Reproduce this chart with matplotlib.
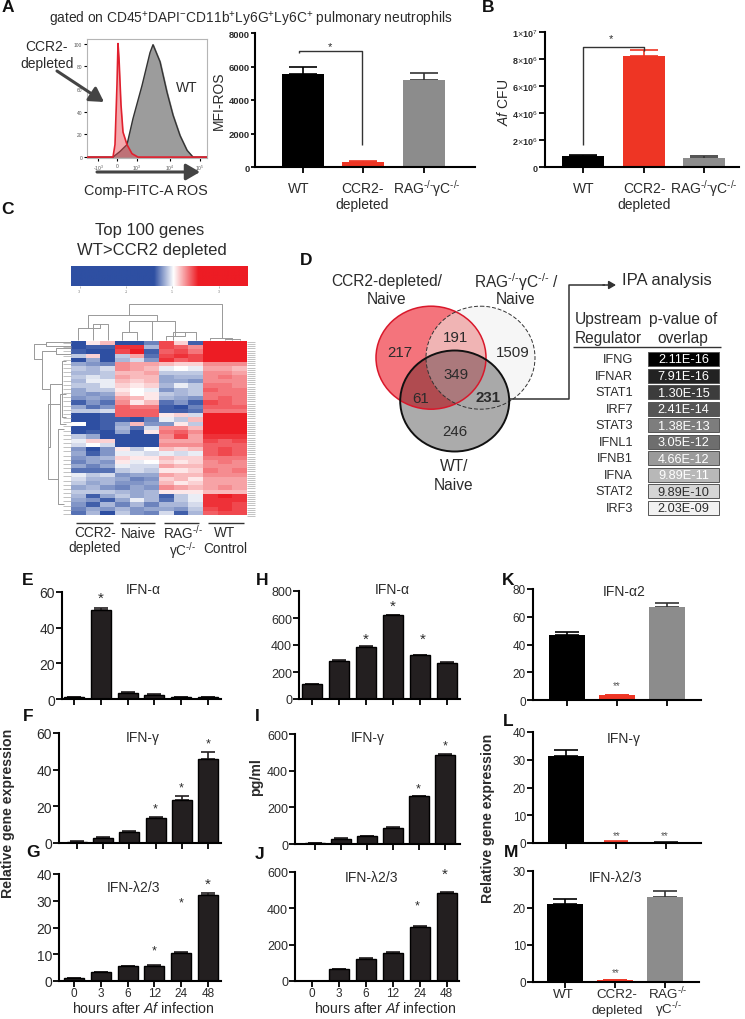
import numpy as np
import matplotlib
matplotlib.use("Agg")
import matplotlib.pyplot as plt
from matplotlib.colors import LinearSegmentedColormap
from matplotlib.patches import Ellipse, Rectangle

plt.rcParams['font.family'] = ['Liberation Sans', 'DejaVu Sans']
plt.rcParams['mathtext.fontset'] = 'custom'
plt.rcParams['mathtext.rm'] = 'Liberation Sans'
plt.rcParams['mathtext.it'] = 'Liberation Sans:italic'
plt.rcParams['mathtext.bf'] = 'Liberation Sans:bold'

W, H = 745, 1020
BLACK = '#000000'
RED = '#EE3524'
GRAY = '#8C8C8C'
DARK = '#231F20'
TXT = '#2b2b2b'
KO = r'$^{\text{-/-}}$'

# panel A / B values
ros_vals = [5550, 300, 5200]
ros_err = [450, 60, 420]
cfu_vals = [8.0e5, 8.2e6, 7.0e5]
cfu_err = [1.0e5, 4.5e5, 1.0e5]

# histogram, channel position vs % of max
wt_x = [0, 26, 33, 40, 46, 55, 63, 66, 73, 80, 86, 93, 100, 106, 120]
wt_y = [0, 0, 5, 11, 34, 63, 92, 99, 84, 57, 37, 19, 6, 0, 0]
red_x = [0, 26, 28, 30, 31, 32, 34, 36, 40, 45, 51, 120]
red_y = [0, 0, 11, 64, 100, 87, 46, 22, 11, 3, 0, 0]

# panel C, rows top to bottom: CCR2 x3, naive x3, RAG x3, WT x3
heat_values = np.array([
    [-1, .1, .3, -1, -1, -.7, .8, .2, -.9, 1, 1, 1],
    [-1, -.9, -.9, .9, .9, -.4, .8, .7, .5, 1, 1, 1],
    [-.9, -1, -1, .8, 1, -.9, .7, .8, .6, 1, 1, 1],
    [-.3, .2, -1, -.3, .4, -.8, .8, .9, .8, 1, 1, 1],
    [-1, -.5, -1, -.4, -.2, -.6, .9, .7, .8, 1, 1, 1],
    [-.5, -.6, -.7, .5, .4, .4, .3, .2, .2, .5, .5, .5],
    [-.3, -.4, -.2, .5, .4, .3, -.1, 0, -.1, .4, .4, .3],
    [-.4, -.4, -.3, .3, .3, .4, -.3, -.3, -.3, .5, .5, .4],
    [-.3, -.15, -.3, .4, .3, .3, -.5, -.4, -.4, .5, .6, .5],
    [-.4, -.1, -.1, .3, .2, .3, -.5, -.5, -.6, .5, .5, .5],
    [-.3, -.3, -.1, .2, .1, .2, -.4, -.1, -.3, .6, .6, .5],
    [-.5, -.3, -.3, .1, 0, -.1, -.6, -.4, -.3, .7, .6, .6],
    [-.5, -.6, -.5, .2, 0, .1, -.3, -.4, -.3, .6, .6, .6],
    [-.6, -.5, -.6, .4, .3, .1, -.4, -.5, -.6, .6, .7, .6],
    [-.9, -.6, -.8, .5, .1, .3, -.8, -.6, -.9, .8, .7, .6],
    [-.5, -.8, -.6, .7, .6, .6, -.9, -1, -.7, .7, .7, .7],
    [-.3, -.3, -.2, .7, .7, .7, -.9, -.9, -.8, .6, .6, .6],
    [-1, -1, -.9, .7, .7, .7, .1, .2, -.2, 1, 1, 1],
    [-1, -1, -.9, -.9, -1, -.7, -.1, -.3, .3, 1, 1, 1],
    [0, -1, -.9, -.5, .3, -.6, -.6, .1, -.3, 1, 1, 1],
    [-1, -1, -.9, -.4, -.8, -.2, .5, .5, .3, 1, 1, 1],
    [-1, -.9, -1, -.5, -1, .1, .6, .7, .5, 1, 1, 1],
    [-.3, -.5, -1, -1, -1, -1, .5, .8, .4, .9, .9, .9],
    [-.1, .2, .2, -1, -1, -1, .4, .4, .4, .8, .7, .8],
    [-.2, 0, -.2, -1, -1, -1, .5, .5, .5, .7, .7, .7],
    [-.6, -1, -.6, .1, -.3, 0, .3, .2, .3, .7, .8, .7],
    [-.5, -.9, -.6, -.1, -.1, -.2, -.1, -.2, -.1, .7, .8, .7],
    [-.6, -.5, -.4, .2, .1, .1, .3, .2, .2, .6, .6, .6],
    [-.7, -.5, -.6, .1, -.1, 0, .2, .1, .2, .5, .6, .5],
    [-.5, -.7, -.5, -.1, -.2, -.2, .4, .3, .3, .5, .5, .5],
    [-.8, -.8, -.8, -.3, -.2, -.3, .1, .1, .2, .6, .5, .6],
    [-.1, -.3, -.2, -.6, -.5, -.5, .4, .3, .3, .5, .5, .5],
    [-.2, -.4, -.4, -.5, -.7, -.6, .2, .3, .1, .4, .4, .4],
    [-.3, -.5, -.4, -.6, -.6, -.5, .3, .1, .2, .4, .4, .4],
    [-.5, -.4, -.6, -.7, -.5, -.6, .5, .4, .3, .4, .5, .4],
    [-.3, -.3, -.3, -.4, -.5, -.4, .1, .1, .1, .3, .3, .3],
    [-.4, -.9, -.5, -.3, -.5, -.4, -.9, -.3, -.1, .9, 1, .9],
    [-.5, -.6, -.9, -.5, -.1, -.4, -.8, -.3, -.1, .9, .9, .9],
    [-.6, -.9, -.4, -.7, -.4, -.7, -.4, -.4, -.2, .9, .9, .8],
    [-.7, -.5, -.6, -.4, -.6, -.5, -.5, -.6, -.3, .8, .9, .8],
    [-.8, -.4, -1, -.3, -.6, -.7, -.2, -.9, -.4, .7, .8, .8],
], dtype=float)
colorbar_ticks = ['-3', '-1', '1', '3']

# panel D
venn_counts = ['217', '191', '1509', '349', '61', '246']
regulators = ['IFNG', 'IFNAR', 'STAT1', 'IRF7', 'STAT3', 'IFNL1', 'IFNB1', 'IFNA', 'STAT2', 'IRF3']
pvalues = ['2.11E-16', '7.91E-16', '1.30E-15', '2.41E-14', '1.38E-13',
           '3.05E-12', '4.66E-12', '9.89E-11', '9.89E-10', '2.03E-09']
p_colors = ['#000000', '#222222', '#3c3c3c', '#555555', '#7d7d7d',
            '#6e6e6e', '#9a9a9a', '#b8b8b8', '#d5d5d5', '#f2f2f2']

# time courses
hours = ['0', '3', '6', '12', '24', '48']
e_vals = [1, 50, 3.5, 2.5, 1.2, 1]
e_err = [.1, 1, .2, .2, .1, .1]
f_vals = [.7, 3, 6, 13.5, 23.5, 46]
f_err = [.2, .4, .4, .8, 2, 3.5]
g_vals = [1, 3.4, 5.6, 5.7, 10.6, 32.3]
g_err = [.05, .1, .1, .1, .2, .5]
h_vals = [110, 285, 385, 620, 325, 270]
h_err = [3, 4, 5, 5, 3, 4]
i_vals = [3, 30, 42, 90, 260, 485]
i_err = [1, 4, 3, 3, 3, 6]
j_vals = [1, 65, 122, 155, 300, 485]
j_err = [1, 2, 2, 2, 3, 3]

# WT / CCR2 / RAG comparisons
k_vals = [46.5, 3.5, 67]
k_err = [2.5, .3, 3]
l_vals = [31.5, .5, .2]
l_err = [2, .1, .05]
m_vals = [21, .5, 23]
m_err = [1.5, .1, 1.5]

fig = plt.figure(figsize=(W / 100, H / 100), dpi=100)


def px_axes(left, right, top, bottom):
    return fig.add_axes([left / W, 1 - bottom / H, (right - left) / W, (bottom - top) / H])


def bar_panel(left, right, top, bottom, c0, step, width, vals, err, colors, ymax, yticks, labels=None, fs=9.5, bold=False):
    ax = px_axes(left, right, top, bottom)
    pos = np.arange(len(vals))
    edge = BLACK if colors[0] == DARK else 'none'
    ax.bar(pos, vals, width=width / step, color=colors, edgecolor=edge, linewidth=1, zorder=2)
    for p, v, e, c in zip(pos, vals, err, colors):
        # grey bars have dark whiskers in the figure
        ax.errorbar(p, v, yerr=[[0], [e]], color='#333333' if c == GRAY else c,
                    capsize=width * 0.34 * 0.72, elinewidth=1.2, capthick=1.2, zorder=1)
    ax.set_xlim((left - c0) / step, (right - c0) / step)
    ax.set_ylim(0, ymax)
    ax.set_yticks(yticks)
    ax.set_yticklabels(labels if labels else [str(t) for t in yticks], fontsize=fs,
                       fontweight='bold' if bold else 'normal', color=TXT)
    ax.set_xticks(pos)
    ax.set_xticklabels([])
    for s in ('top', 'right'):
        ax.spines[s].set_visible(False)
    for s in ('left', 'bottom'):
        ax.spines[s].set_linewidth(1.5)
    ax.tick_params(axis='both', width=1.3, length=4, pad=1)
    ax.patch.set_alpha(0)
    return ax


tri = [BLACK, RED, GRAY]
six = [DARK] * 6

# A, B bars
ax_a = bar_panel(255, 475, 34, 168, 302.5, 60.5, 42, ros_vals, ros_err, tri, 8000,
                 [0, 2000, 4000, 6000, 8000], fs=6.8, bold=True)
ax_a.tick_params(axis='y', length=3, pad=0.5)
cfu_labels = ['0', r'2$\times$10$^6$', r'4$\times$10$^6$', r'6$\times$10$^6$', r'8$\times$10$^6$', r'1$\times$10$^7$']
bar_panel(545, 739, 33, 168, 583, 60.5, 42, cfu_vals, cfu_err, tri, 1e7,
          [0, 2e6, 4e6, 6e6, 8e6, 1e7], labels=cfu_labels, fs=6.5, bold=True)

# A histogram
hist = px_axes(87, 207, 40, 159)
hist.fill_between(wt_x, wt_y, color='#9c9c9c', zorder=1)
hist.plot(wt_x, wt_y, color='#333333', lw=1, zorder=2)
hist.fill_between(red_x, red_y, color='#E8404A', alpha=0.45, lw=0, zorder=3)
hist.plot(red_x, red_y, color='#E0202E', lw=1.2, zorder=4)
hist.set_xlim(0, 120)
hist.set_ylim(-0.8, 104)
hist.set_yticks([0, 20, 40, 60, 80, 100])
hist.set_yticklabels(['0', '20', '40', '60', '80', '100'], fontsize=3.5, color='#555555')
hist.set_xticks([11, 30, 50, 83, 113])
hist.set_xticklabels(['-10$^3$', '0', '10$^3$', '10$^4$', '10$^5$'], fontsize=3.5, color='#555555')
hist.tick_params(length=2.5, width=0.8, pad=1)
for s in hist.spines.values():
    s.set_color('#b5b5b5')
    s.set_linewidth(0.8)

# C heatmap
heat_cmap = LinearSegmentedColormap.from_list('heat', ['#2E4FA2', '#ffffff', '#ED1C24'])
heat = px_axes(71, 247, 342, 517)
heat.imshow(heat_values, cmap=heat_cmap, vmin=-1, vmax=1, aspect='auto', interpolation='nearest')
heat.set_xticks([])
heat.yaxis.tick_right()
heat.set_yticks(np.arange(-0.25, heat_values.shape[0], 0.5))
heat.set_yticklabels([])
heat.tick_params(axis='y', length=6, width=0.5, color='#aaaaaa', pad=0)
for s in heat.spines.values():
    s.set_visible(False)

bar_cmap = LinearSegmentedColormap.from_list(
    'bar', [(0, '#2E4FA2'), (0.47, '#2E4FA2'), (0.58, '#ffffff'), (0.72, '#ED1C24'), (1, '#ED1C24')])
cbar = px_axes(71, 247, 267, 287)
cbar.imshow(np.linspace(0, 1, 256)[None, :], cmap=bar_cmap, aspect='auto', extent=[0, 1, 0, 1])
cbar.set_yticks([])
cbar.set_xticks([0.05, 0.315, 0.575, 0.84])
cbar.set_xticklabels(colorbar_ticks, fontsize=2.5, color='#777777')
cbar.tick_params(length=1.5, width=0.4, color='#888888', pad=0.5)
for s in cbar.spines.values():
    s.set_visible(False)

# E-G
bar_panel(62, 221, 593, 700, 74, 26.8, 20, e_vals, e_err, six, 60, [0, 20, 40, 60], fs=10)
bar_panel(59, 221, 734, 844, 77, 26.2, 20, f_vals, f_err, six, 60, [0, 20, 40, 60], fs=10)
bar_panel(59, 221, 875, 982, 74, 26.8, 20, g_vals, g_err, six, 40, [0, 10, 20, 30, 40], fs=10)
# H-J
bar_panel(299, 460, 592, 700, 312, 27, 20, h_vals, h_err, six, 800, [0, 200, 400, 600, 800], fs=9)
bar_panel(295, 460, 735, 845, 315, 26, 20, i_vals, i_err, six, 600, [0, 200, 400, 600], fs=9)
bar_panel(295, 459, 873, 982, 312, 26.9, 20, j_vals, j_err, six, 600, [0, 200, 400, 600], fs=9)
# K-M
bar_panel(533, 701, 590, 701, 567, 50, 36, k_vals, k_err, tri, 80, [0, 20, 40, 60, 80], fs=8.5)
bar_panel(533, 701, 733, 844, 566, 50, 36, l_vals, l_err, tri, 40, [0, 10, 20, 30, 40], fs=8.5)
bar_panel(533, 699, 872, 983, 565, 50, 36, m_vals, m_err, tri, 30, [0, 10, 20, 30], fs=8.5)

# overlay in image pixels for text, arrows, venn and brackets
ov = fig.add_axes([0, 0, 1, 1], zorder=10)
ov.set_xlim(0, W)
ov.set_ylim(H, 0)
ov.axis('off')
ov.patch.set_alpha(0)


def t(x, y, s, size=10, ha='center', va='center', **kw):
    kw.setdefault('color', TXT)
    ov.text(x, y, s, fontsize=size, ha=ha, va=va, **kw)


def seg(xs, ys, color='#444444', lw=1.0, **kw):
    ov.plot(xs, ys, color=color, lw=lw, solid_capstyle='butt', **kw)


def arrow(x0, y0, x1, y1, lw=2.2, head=12, color='#444444'):
    ov.annotate('', xy=(x1, y1), xytext=(x0, y0),
                arrowprops=dict(arrowstyle=f'-|>,head_width={head * 0.035},head_length={head * 0.06}',
                                color=color, lw=lw, shrinkA=0, shrinkB=0))


# panel letters
letters = {'A': (8, 8), 'B': (488, 8), 'C': (8, 210), 'D': (306, 261), 'E': (28, 581), 'F': (28, 717),
           'G': (33, 853), 'H': (262, 581), 'I': (257, 717), 'J': (260, 855), 'K': (508, 581),
           'L': (508, 722), 'M': (511, 853)}
for k, (x, y) in letters.items():
    t(x, y, k, size=12.5, fontweight='bold', color='#111111')

# A / B text
t(251, 19, 'gated on CD45$^{+}$DAPI$^{-}$CD11b$^{+}$Ly6G$^{+}$Ly6C$^{+}$ pulmonary neutrophils', size=9.9)
t(47, 47, 'CCR2-', size=10)
t(47, 64, 'depleted', size=10)
t(187, 88, 'WT', size=10)
t(146, 191, 'Comp-FITC-A ROS', size=10.4)
arrow(57, 72, 104, 103, lw=2.2, head=14)
arrow(97, 173, 200, 173, lw=2.2, head=14)
t(219, 101, 'MFI-ROS', size=10, rotation=90)
t(503, 102, r'$\mathit{Af}$ CFU', size=10, rotation=90)
for x, s in [(299, 'WT'), (362, 'CCR2-'), (427, 'RAG' + KO + '\u03b3C' + KO),
             (584, 'WT'), (644, 'CCR2-'), (704, 'RAG' + KO + '\u03b3C' + KO)]:
    t(x, 189, s, size=10)
t(362, 205, 'depleted', size=10)
t(644, 205, 'depleted', size=10)
seg([299, 299, 362, 362], [54, 52, 52, 146], color='#333333')
t(330, 47, '*', size=8)
seg([583, 583, 644, 644], [146, 48, 48, 52], color='#333333')
t(611, 39, '*', size=8)

# C text
t(150, 231, 'Top 100 genes', size=12)
t(152, 251, 'WT>CCR2 depleted', size=12)
for x0, x1 in [(76, 113), (120, 155), (164, 199), (208, 244)]:
    seg([x0, x1], [524, 524], color='#333333', lw=1.0)
for x, y, s in [(95, 533, 'CCR2-'), (95, 548, 'depleted'), (138, 534, 'Naive'), (183, 533, 'RAG' + KO),
                (183, 551, '\u03b3C' + KO), (225, 533, 'WT'), (225, 549, 'Control')]:
    t(x, y, s, size=9.8)

# top dendrogram, image pixels
for x1, x2, top, b1, b2 in [(93, 108, 325, 341, 341), (78, 100, 329, 341, 325),
                            (122, 137, 333, 341, 341), (129, 152, 322, 333, 341),
                            (173, 196, 333, 341, 341), (166, 185, 337, 341, 333),
                            (140, 175, 322, 322, 337), (88, 157, 316, 329, 322),
                            (210, 232, 339, 341, 341), (225, 240, 340, 341, 341),
                            (129, 222, 305, 316, 339)]:
    seg([x1, x1, x2, x2], [b1, top, top, b2], color='#999999', lw=0.7)
# left dendrogram
for x0, y1, y2, x1, x2 in [(34, 345, 360, 46, 42), (46, 343, 347, 71, 71), (42, 352, 390, 56, 50),
                           (56, 349, 355, 71, 71), (50, 385, 448, 62, 48), (62, 362, 418, 66, 66),
                           (48, 405, 480, 60, 58), (60, 395, 425, 66, 66), (58, 430, 505, 64, 64)]:
    seg([x1, x0, x0, x2], [y1, y1, y2, y2], color='#999999', lw=0.7)
for y in np.linspace(344, 515, 42):
    seg([63, 71], [y, y], color='#aaaaaa', lw=0.5)

# D venn
red_e = Ellipse((431, 358.7), 110, 103, fc='#F4747C', ec='none', zorder=2)
dash_bg = Ellipse((480.5, 358.7), 109, 103, fc='#F6F6F6', ec='none', zorder=1)
ov.add_patch(dash_bg)
ov.add_patch(red_e)
dash_over = Ellipse((480.5, 358.7), 109, 103, fc='#F0B4B4', ec='none', zorder=3)
ov.add_patch(dash_over)
dash_over.set_clip_path(red_e)
gray_e = Ellipse((454.7, 402), 109, 101, fc='#ABABAB', ec='none', zorder=4)
ov.add_patch(gray_e)
red_over = Ellipse((431, 358.7), 110, 103, fc='#B04B50', ec='none', zorder=5)
ov.add_patch(red_over)
red_over.set_clip_path(gray_e)
mid = Ellipse((480.5, 358.7), 109, 103, fc='#A8A8A8', alpha=0.5, ec='none', zorder=6)
ov.add_patch(mid)
mid.set_clip_path(gray_e)
ov.add_patch(Ellipse((431, 358.7), 110, 103, fc='none', ec='#D9182B', lw=1.1, zorder=7))
ov.add_patch(Ellipse((480.5, 358.7), 109, 103, fc='none', ec='#333333', lw=0.7, ls=(0, (4, 2)), zorder=7))
ov.add_patch(Ellipse((454.7, 402), 109, 101, fc='none', ec='#111111', lw=1.4, zorder=8))
for (x, y), s in zip([(400, 353), (455, 338), (513, 353), (456, 375), (421, 399), (455, 432)], venn_counts):
    t(x, y, s, size=10.8, zorder=9)
t(488, 398, '231', size=10.8, fontweight='bold', zorder=9)
t(387, 282, 'CCR2-depleted/', size=11.2)
t(387, 300, 'Naive', size=11.2)
t(516, 282, 'RAG' + KO + '\u03b3C' + KO + ' /', size=11.2)
t(516, 300, 'Naive', size=11.2)
t(454, 467, 'WT/', size=11.2)
t(454, 486, 'Naive', size=11.2)
seg([508, 569, 569, 605], [400, 400, 286, 286], color='#333333', lw=1.1)
arrow(603, 286, 616, 286, lw=1.1, head=7, color='#333333')
t(622, 281, 'IPA analysis', size=12, ha='left')
t(608, 320, 'Upstream', size=11.2)
t(608, 339, 'Regulator', size=11.2)
t(683, 320, 'p-value of', size=11.2)
t(683, 339, 'overlap', size=11.2)
seg([573, 721], [348, 348], color='#333333', lw=1.0)
for i, (r, p, c) in enumerate(zip(regulators, pvalues, p_colors)):
    y = 353 + i * 16.55
    ov.add_patch(Rectangle((648, y), 71, 14, fc=c, ec='#555555', lw=0.7))
    t(633, y + 7, r, size=9.2, ha='right')
    t(683.5, y + 7.5, p, size=9.2, color=TXT if i >= 8 else '#ffffff')

# E-M titles
for x, y, s in [(143, 590, 'IFN-\u03b1'), (143, 738, 'IFN-\u03b3'), (133, 888, 'IFN-\u03bb2/3'),
                (392, 590, 'IFN-\u03b1'), (368, 738, 'IFN-\u03b3'), (372, 878, 'IFN-\u03bb2/3'),
                (624, 592, 'IFN-\u03b12'), (624, 739, 'IFN-\u03b3'), (615, 878, 'IFN-\u03bb2/3')]:
    t(x, y, s, size=10)
# significance stars, x and y in image pixels
for x, y, size in [(101, 599, 11), (155, 809, 9), (181, 788, 9), (208, 744, 9),
                   (154, 951, 9), (181, 903, 9), (208, 885, 11),
                   (366, 640, 11), (393, 607, 11), (423, 640, 11),
                   (418, 789, 9), (445, 746, 9), (417, 906, 9), (445, 875, 11)]:
    t(x, y, '*', size=size)
for x, y in [(617, 686), (617, 836), (665, 836), (616, 973)]:
    t(x, y, '**', size=7, color='#555555')

# shared axis labels
t(8, 813, 'Relative gene expression', size=10.2, rotation=90, fontweight='bold')
t(256, 777, 'pg/ml', size=10.2, rotation=90, fontweight='bold')
t(488, 818, 'Relative gene expression', size=10.2, rotation=90, fontweight='bold')
for c0, step, xc in [(74, 26.8, 143), (312, 26.9, 385)]:
    for i, h in enumerate(hours):
        t(c0 + i * step, 994, h, size=8.5)
    t(xc, 1009, r'hours after $\mathit{Af}$ infection', size=10.2)
for x, y, s in [(563, 995, 'WT'), (617, 995, 'CCR2-'), (617, 1011, 'depleted'),
                (668, 994, 'RAG' + KO), (668, 1010, '\u03b3C' + KO)]:
    t(x, y, s, size=9.6)

fig.savefig('out.png', dpi=100)
